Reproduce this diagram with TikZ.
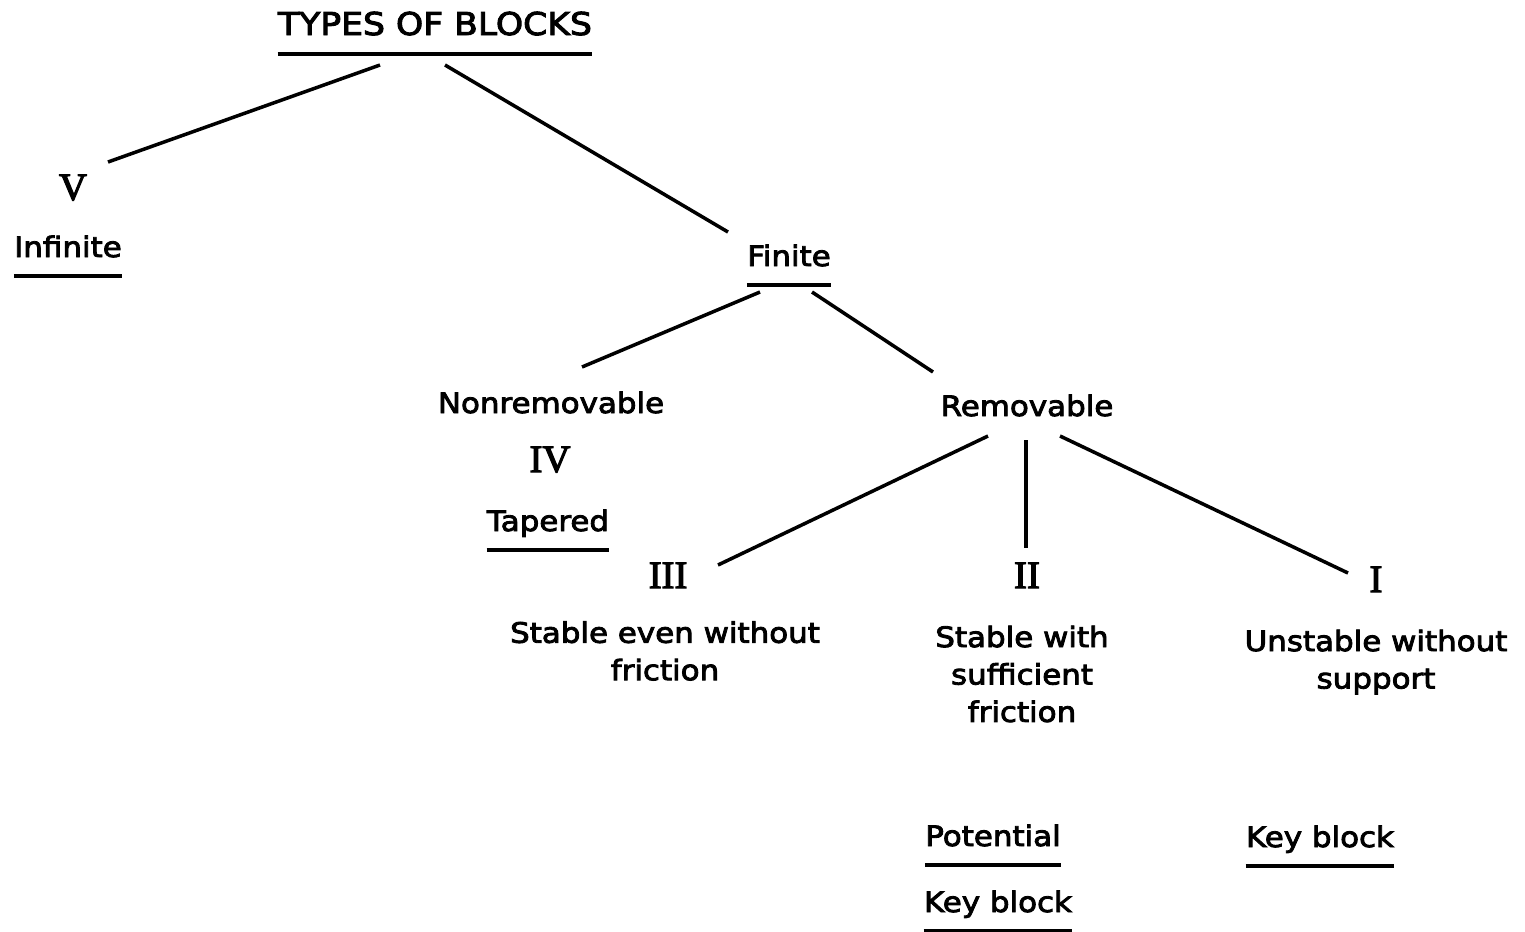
\documentclass[tikz,border=0pt]{standalone}
\usepackage{fontspec}
\setmainfont{DejaVu Sans}[FakeStretch=1.1,UprightFeatures={FakeBold=3}]
\newfontfamily\numfont{Liberation Serif}[UprightFeatures={FakeBold=3}]
\usetikzlibrary{calc}
\tikzset{
  lbl/.style={inner sep=0pt, anchor=base, font=\fontsize{16}{21.3}\selectfont},
  multi/.style={inner sep=0pt, anchor=center, align=center, font=\fontsize{16}{21.3}\selectfont},
  ttl/.style={inner sep=0pt, anchor=base, font=\fontsize{17.9}{21}\selectfont},
  num/.style={inner sep=0pt, anchor=base, font=\numfont\fontsize{22}{24}\selectfont},
  conn/.style={line width=2pt},
  uline/.style={line width=1.9pt},
}
\newcommand{\ul}[1]{\draw[uline] ($(#1.base west)+(0,19)$) -- ($(#1.base east)+(0,19)$);}
\begin{document}
\begin{tikzpicture}[x=0.02cm,y=-0.02cm]
\useasboundingbox (0,0) rectangle (1525,931);
% nodes
\node[ttl] (title) at (435,35) {TYPES OF BLOCKS};
\node[num] (v) at (73,200) {V};
\node[lbl] (infinite) at (68,257) {Infinite};
\node[lbl] (finite) at (789,266) {Finite};
\node[lbl] (nonrem) at (551,413) {Nonremovable};
\node[num] (iv) at (550,472) {IV};
\node[lbl] (tapered) at (548,531) {Tapered};
\node[lbl] (rem) at (1027,416) {Removable};
\node[num] (iii) at (668,588) {III};
\node[num] (ii) at (1027,588) {II};
\node[num] (i) at (1376,592) {I};
\node[multi] (s3) at (665,651) {Stable even without\\friction};
\node[multi] (s2) at (1022,674) {Stable with\\sufficient\\friction};
\node[multi] (s1) at (1376,662) {Unstable without\\support};
\node[lbl] (potential) at (993,846) {Potential};
\node[lbl] (keyb) at (998,912) {Key block};
\node[lbl] (keyr) at (1320,847) {Key block};
% underlines
\ul{title}
\ul{infinite}
\ul{finite}
\ul{tapered}
\ul{potential}
\ul{keyb}
\ul{keyr}
% connectors
\draw[conn] ($(title.base)+(-55,30)$) -- ($(v.base)+(35,-38)$);
\draw[conn] ($(title.base)+(10,30)$) -- ($(finite.base)+(-61,-34)$);
\draw[conn] ($(finite.base)+(-29,26)$) -- ($(nonrem.base)+(31,-46)$);
\draw[conn] ($(finite.base)+(23,26)$) -- ($(rem.base)+(-94,-44)$);
\draw[conn] ($(rem.base)+(-39,20)$) -- ($(iii.base)+(50,-23)$);
\draw[conn] ($(rem.base)+(-1,24)$) -- ($(ii.base)+(-1,-40)$);
\draw[conn] ($(rem.base)+(33,20)$) -- ($(i.base)+(-28,-19)$);
\end{tikzpicture}
\end{document}
